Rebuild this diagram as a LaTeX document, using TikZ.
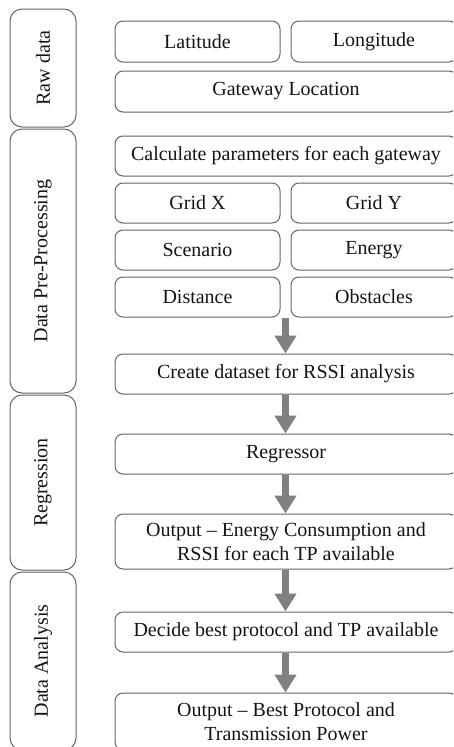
\documentclass[tikz,border=0pt]{standalone}
\usepackage{fontspec}
\setmainfont{Liberation Serif}
\usetikzlibrary{arrows.meta,calc}
\definecolor{edgegray}{RGB}{100,100,100}
\definecolor{arrowgray}{RGB}{128,128,128}
\definecolor{txt}{RGB}{20,20,20}
\tikzset{
  box/.style={draw=edgegray, line width=1pt, rounded corners=8pt, inner sep=0pt,
    align=center, text=txt, font=\fontsize{20}{23.5}\selectfont},
  stage/.style={draw=edgegray, line width=1pt, rounded corners=12pt, inner sep=0pt,
    text=txt, font=\fontsize{20}{23.5}\selectfont},
  flow/.style={draw=arrowgray, line width=7pt, -{Triangle[length=18pt,width=21pt]}}
}
\begin{document}
\begin{tikzpicture}[x=1pt,y=-1pt]
\useasboundingbox (0,0) rectangle (453,747);
\clip (0,0) rectangle (453,747);
% stage boxes
\node[stage, minimum width=66pt, minimum height=118pt] (raw) at (43,68) {};
\node[rotate=90, text=txt, font=\fontsize{20}{23.5}\selectfont] (rawt) at (raw.center) {Raw data};
\node[stage, minimum width=66pt, minimum height=264pt] (pre) at (43,261) {};
\node[rotate=90, text=txt, font=\fontsize{20}{23.5}\selectfont] (pret) at (pre.center) {Data Pre-Processing};
\node[stage, minimum width=66pt, minimum height=175pt] (reg) at (43,482.5) {};
\node[rotate=90, text=txt, font=\fontsize{20}{23.5}\selectfont] (regt) at (reg.center) {Regression};
\node[stage, minimum width=66pt, minimum height=178pt] (da) at (43,661) {};
\node[rotate=90, text=txt, font=\fontsize{20}{23.5}\selectfont] (dat) at (da.center) {Data Analysis};
% raw data
\node[box, minimum width=165pt, minimum height=41pt] (lat) at (197.5,41.5) {Latitude};
\node[box, minimum width=166pt, minimum height=41pt] (lon) at (374,41.5) {Longitude};
\node[box, minimum width=342pt, minimum height=41pt] (gw) at (286,91.5) {Gateway Location};
% pre-processing
\node[box, minimum width=342pt, minimum height=40pt] (calc) at (286,156) {Calculate parameters for each gateway};
\node[box, minimum width=165pt, minimum height=40pt] (gx) at (197.5,203) {Grid X};
\node[box, minimum width=166pt, minimum height=40pt] (gy) at (374,203) {Grid Y};
\node[box, minimum width=165pt, minimum height=40pt] (sc) at (197.5,250) {Scenario};
\node[box, minimum width=166pt, minimum height=40pt] (en) at (374,250) {Energy};
\node[box, minimum width=165pt, minimum height=40pt] (dist) at (197.5,297) {Distance};
\node[box, minimum width=166pt, minimum height=40pt] (obs) at (374,297) {Obstacles};
\node[box, minimum width=342pt, minimum height=40pt] (create) at (286,374) {Create dataset for RSSI analysis};
% regression
\node[box, minimum width=342pt, minimum height=40pt] (regr) at (286,454) {Regressor};
\node[box, minimum width=342pt, minimum height=55pt] (out1) at (286,541.5) {Output -- Energy Consumption and\\RSSI for each TP available};
% analysis
\node[box, minimum width=342pt, minimum height=40pt] (dec) at (286,632) {Decide best protocol and TP available};
\node[box, minimum width=342pt, minimum height=57pt] (out2) at (286,721.5) {Output -- Best Protocol and\\Transmission Power};
% arrows
\coordinate (gap) at ($(dist.south east)!0.5!(obs.south west)$);
\draw[flow] (gap) -- (gap |- create.north);
\draw[flow] (create.south -| gap) -- (regr.north -| gap);
\draw[flow] (regr.south -| gap) -- (out1.north -| gap);
\draw[flow] (out1.south -| gap) -- (dec.north -| gap);
\draw[flow] (dec.south -| gap) -- (out2.north -| gap);
\end{tikzpicture}
\end{document}
